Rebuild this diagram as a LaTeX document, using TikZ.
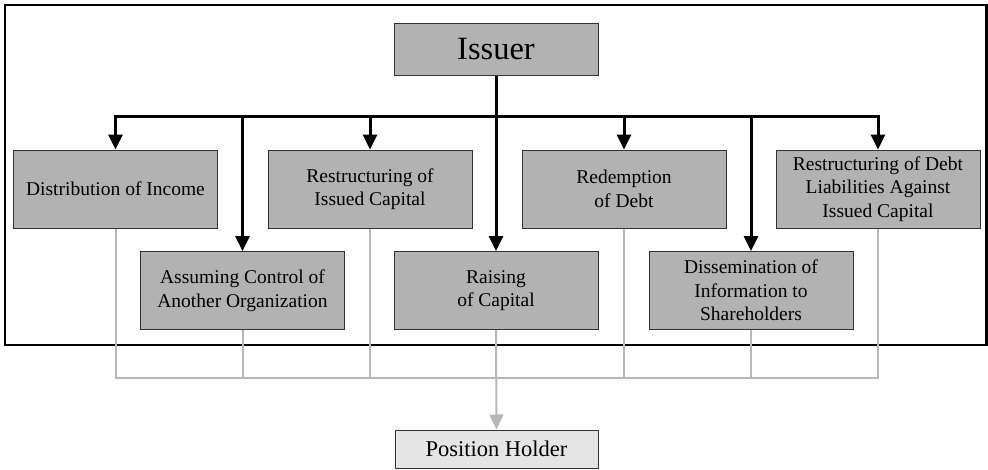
\documentclass[tikz,border=0pt]{standalone}
\usepackage{fontspec}
\setmainfont{Liberation Serif}
\usetikzlibrary{positioning, arrows.meta}

\tikzset{
    box/.style={draw=black!80, line width=1pt, fill=black!30, minimum width=204pt,
        minimum height=78pt, align=center, inner sep=2pt,
        font=\fontsize{19.5}{23.5}\selectfont},
    feed/.style={line width=3pt, -{Triangle[length=15pt,width=14pt]}},
    back/.style={line width=2pt, draw=black!28},
}

\begin{document}
\begin{tikzpicture}[x=1pt, y=-1pt]
    \useasboundingbox (0,0) rectangle (988,469);
    \draw[line width=2.5pt] (5,5) rectangle (986.5,345);
    \node[box, minimum height=52pt, font=\fontsize{32.5}{36}\selectfont] (issuer) at (496,49) {Issuer};
    \node[box] (income) at (115.5,189) {Distribution of Income};
    \node[box] (restruct) at (370,189) {Restructuring of\\Issued Capital};
    \node[box] (redeem) at (624,189) {Redemption\\of Debt};
    \node[box] (debt) at (878,189) {Restructuring of Debt\\Liabilities Against\\Issued Capital};
    \node[box] (control) at (242.5,290.5) {Assuming Control of\\Another Organization};
    \node[box] (raise) at (496,290.5) {Raising\\of Capital};
    \node[box] (inform) at (751,290.5) {Dissemination of\\Information to\\Shareholders};
    \node[box, fill=black!10, minimum width=203pt, minimum height=38pt,
        font=\fontsize{22.5}{26}\selectfont] (holder) at (496.5,449) {Position Holder};
    \coordinate (bus) at (496,116);
    \coordinate (sink) at (496,378);
    % issuer to the tasks
    \draw[line width=3pt] (issuer.south) -- (bus);
    \foreach \t in {income, restruct, redeem, debt, control, raise, inform}
        \draw[feed] (bus) -| (\t.north);
    % tasks back to the holder
    \foreach \t in {income, restruct, redeem, debt, control, inform}
        \draw[back] (\t.south) |- (sink);
    \draw[back, -{Triangle[length=15pt,width=14pt]}] (raise.south) -- (holder.north);
\end{tikzpicture}
\end{document}
